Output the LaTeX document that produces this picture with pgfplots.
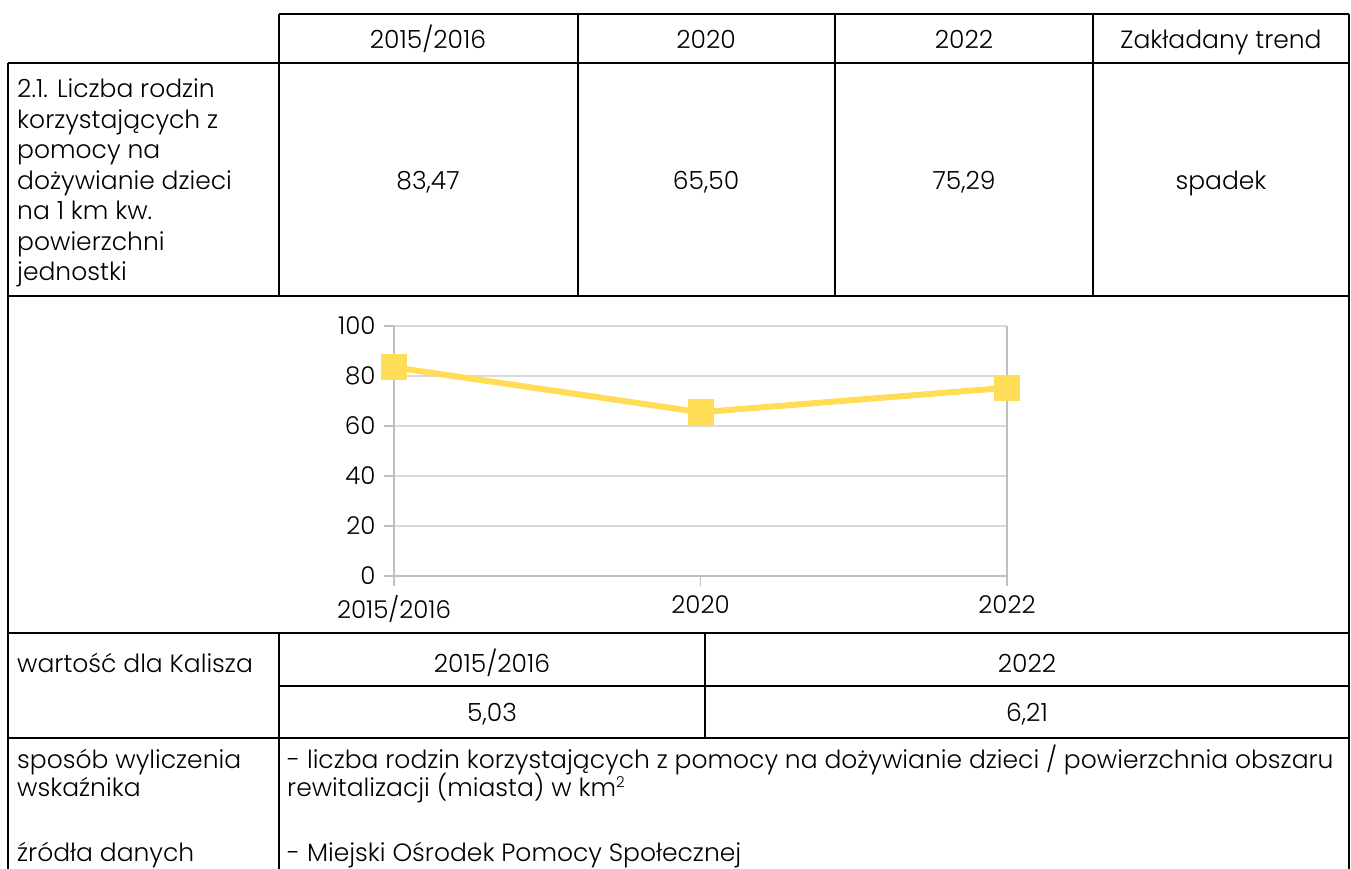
\documentclass[border=0pt]{standalone}
\usepackage{fontspec}
\setmainfont{Poppins}[UprightFont=* Light]
\usepackage{pgfplots}
\pgfplotsset{compat=1.18}
\definecolor{lineY}{RGB}{255,221,87}
\definecolor{gridG}{RGB}{217,217,217}
\definecolor{axisG}{RGB}{191,191,191}
\newcommand\T{\fontsize{25}{30}\selectfont}
\newcommand\C{\fontsize{24.5}{28}\selectfont}
\begin{document}
\begin{tikzpicture}
\useasboundingbox (0,0) rectangle (1351pt,869pt);
\fill[white] (0,0) rectangle (1351pt,869pt);
\begin{scope}[x=1pt, y=-1pt, shift={(0pt,869pt)}]
% table lines
\begin{scope}[line width=1.4pt, black]
\draw (279,14) -- (1349,14);
\draw (8,63) -- (1349,63);
\draw (8,296) -- (1349,296);
\draw (8,633) -- (1349,633);
\draw (279,686) -- (1349,686);
\draw (8,738) -- (1349,738);
\draw (279,14) -- (279,296);
\draw (578,14) -- (578,296);
\draw (835,14) -- (835,296);
\draw (1093,14) -- (1093,296);
\draw (1349,14) -- (1349,869);
\draw (8,63) -- (8,869);
\draw (279,633) -- (279,869);
\draw (705,633) -- (705,738);
\end{scope}
\begin{scope}[every node/.style={inner sep=0pt, font=\T}]
% header
\node[anchor=base] at (428,49) {2015/2016};
\node[anchor=base] at (706,49) {2020};
\node[anchor=base] at (964,49) {2022};
\node[anchor=base] at (1221,49) {Zakładany trend};
% row 2
\node[anchor=base west] at (17,98) {2.1. Liczba rodzin};
\node[anchor=base west] at (17,128.5) {korzystających z};
\node[anchor=base west] at (17,159) {pomocy na};
\node[anchor=base west] at (17,189.5) {dożywianie dzieci};
\node[anchor=base west] at (17,220) {na 1 km kw.};
\node[anchor=base west] at (17,250.5) {powierzchni};
\node[anchor=base west] at (17,281) {jednostki};
\node[anchor=base] at (428,190) {83,47};
\node[anchor=base] at (706,190) {65,50};
\node[anchor=base] at (964,190) {75,29};
\node[anchor=base] at (1221,190) {spadek};
% bottom rows
\node[anchor=base west] at (17,673) {wartość dla Kalisza};
\node[anchor=base] at (492,673) {2015/2016};
\node[anchor=base] at (1027,673) {2022};
\node[anchor=base] at (492,722) {5,03};
\node[anchor=base] at (1027,722) {6,21};
\node[anchor=base west] at (17,769) {sposób wyliczenia};
\node[anchor=base west] at (17,797) {wskaźnika};
\node[anchor=base west] at (287,769) {- liczba rodzin korzystających z pomocy na dożywianie dzieci / powierzchnia obszaru};
\node[anchor=base west] at (287,797) {rewitalizacji (miasta) w km\textsuperscript{\fontsize{15}{15}\selectfont 2}};
\node[anchor=base west] at (17,862) {źródła danych};
\node[anchor=base west] at (287,862) {- Miejski Ośrodek Pomocy Społecznej};
\end{scope}
\end{scope}
\begin{axis}[
  at={(394pt,293pt)}, anchor=south west,
  scale only axis, width=613pt, height=250pt,
  xmin=0, xmax=2, ymin=0, ymax=100,
  xtick={0,1,2}, xticklabels={2015/2016,2020,2022},
  ytick={0,20,40,60,80,100},
  ymajorgrids, grid style={gridG, line width=1.2pt},
  axis x line*=bottom, axis y line*=left,
  axis line style={axisG, line width=1.2pt, -},
  tick style={axisG, line width=1.2pt},
  major tick length=10pt, tick align=outside,
  ticklabel style={font=\C, black},
  xticklabel style={yshift=-6pt},
  yticklabel style={xshift=-5pt},
  /pgf/number format/assume math mode=true,
  clip=false,
]
\draw[axisG, line width=1.2pt] (axis cs:2,0) -- (axis cs:2,100);
\addplot[lineY, line width=6pt, mark=square*, mark size=10pt, mark options={solid}]
  coordinates {(0,83.47) (1,65.50) (2,75.29)};
\end{axis}
\end{tikzpicture}
\end{document}
